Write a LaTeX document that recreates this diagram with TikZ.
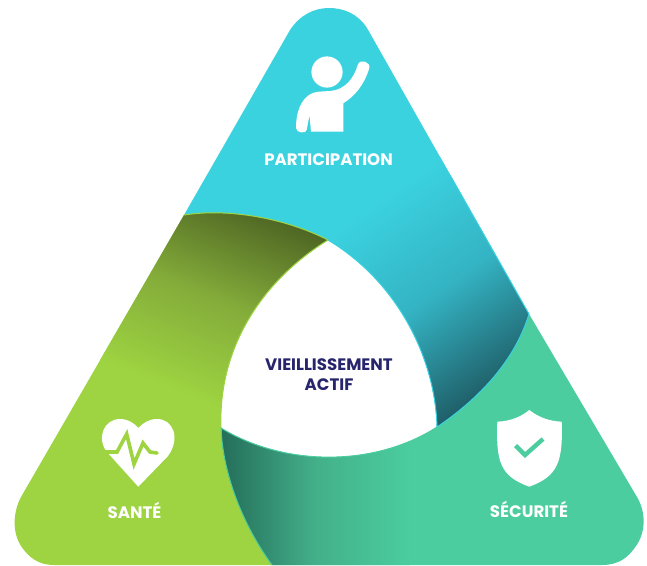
\documentclass[tikz,border=0pt]{standalone}
\usepackage{fontspec}
\setmainfont{Poppins}[BoldFont={Poppins Bold}]
\usepackage{tikz}
\definecolor{partblue}{HTML}{3BD2E0}
\definecolor{partmid}{HTML}{34B3C3}
\definecolor{partdark}{HTML}{1F5F68}
\definecolor{santegreen}{HTML}{9ED441}
\definecolor{santemid}{HTML}{84AC3A}
\definecolor{santedark}{HTML}{4E6523}
\definecolor{secugreen}{HTML}{4BCDA0}
\definecolor{secumid}{HTML}{43B08A}
\definecolor{secudark}{HTML}{256E5A}
\definecolor{coretext}{HTML}{27256B}

\begin{document}
\begin{tikzpicture}[x=1pt,y=-1pt,
    label/.style={font=\bfseries\fontsize{16.6}{20}\selectfont,text=white,align=center,inner sep=0pt},
    coretitle/.style={label,text=coretext},
    icon/.style={fill=white,draw=none}]

    \useasboundingbox (0,0) rectangle (647,565);

    \coordinate (L) at (184,215);
    \coordinate (T) at (328,240);
    \coordinate (R) at (437,427);
    \coordinate (W) at (221,428);
    \coordinate (E) at (529,314);
    \coordinate (B) at (272,565);

    % sante
    \def\santepath{(L) -- (21,497) .. controls (13,512) and (12,532) .. (21,546)
        .. controls (29,558) and (39,565) .. (54,565) -- (B)
        .. controls (243,525) and (223,475) .. (W)
        .. controls (218,350) and (260,282) .. (T)
        .. controls (285,218) and (228,208) .. (L) -- cycle}
    \fill[santegreen] \santepath;
    \begin{scope}
        \clip \santepath;
        \begin{scope}[transform canvas={rotate around={-22:(290,222)}}]
            \shade[top color=santedark,bottom color=santegreen,middle color=santemid] (-100,222) rectangle (700,422);
            \fill[santedark] (-100,120) rectangle (700,222.5);
        \end{scope}
    \end{scope}

    % securite
    \def\secupath{(E) -- (637,497) .. controls (646,512) and (646,532) .. (636,546)
        .. controls (628,558) and (618,565) .. (602,565) -- (B)
        .. controls (243,525) and (223,475) .. (W)
        .. controls (285,467) and (375,467) .. (R)
        .. controls (480,398) and (515,360) .. (E) -- cycle}
    \fill[secugreen] \secupath;
    \begin{scope}
        \clip \secupath;
        \shade[left color=secudark,right color=secugreen,middle color=secumid] (222,420) rectangle (410,565);
    \end{scope}
    \draw[secugreen,line width=1pt] (B) .. controls (243,525) and (223,475) .. (W)
        .. controls (285,467) and (375,467) .. (R);

    % participation
    \def\partpath{(L) -- (290,30) .. controls (300,15) and (314,8) .. (329,8)
        .. controls (344,8) and (358,14) .. (367,28) -- (E)
        .. controls (515,360) and (480,398) .. (R)
        .. controls (435,355) and (395,280) .. (T)
        .. controls (285,218) and (228,208) .. (L) -- cycle}
    \fill[partblue] \partpath;
    \begin{scope}
        \clip \partpath;
        \begin{scope}[transform canvas={rotate around={35:(437,427)}}]
            \shade[top color=partblue,bottom color=partdark,middle color=partmid] (-100,207) rectangle (900,427);
            \fill[partdark] (-100,426.5) rectangle (900,520);
        \end{scope}
    \end{scope}
    \draw[partblue,line width=1pt] (E) .. controls (515,360) and (480,398) .. (R)
        .. controls (435,355) and (395,280) .. (T);
    \draw[partblue,line width=1pt] (450,175) -- (E);
    \draw[santegreen,line width=1pt] (T) .. controls (285,218) and (228,208) .. (L);
    \draw[santegreen,line width=1pt] (W) .. controls (218,350) and (260,282) .. (T);

    % personne
    \fill[icon] (327,72) circle (15.6);
    \fill[icon] (343.3,131.7) -- (343.3,103.3) .. controls (355,96) and (364,85) .. (369.3,68.3)
        .. controls (371,62) and (360,58) .. (357.7,65)
        .. controls (354,78) and (345,90) .. (330,91)
        -- (318.3,91.7) .. controls (304,93) and (296,108) .. (296,128)
        .. controls (296,133) and (306,134) .. (306.7,130)
        -- (309.5,115) -- (311,131.7) -- cycle;

    % coeur
    \fill[icon] (138.3,486.7) -- (107,452) .. controls (96,438) and (104,419) .. (120,419)
        .. controls (128,419) and (134,423) .. (138.3,428)
        .. controls (143,423) and (149,419) .. (157,419)
        .. controls (173,419) and (181,438) .. (168,456) -- cycle;
    \draw[santegreen,line width=3.6pt,line cap=round,line join=miter]
        (102,452) -- (117,452) -- (126.7,434) -- (134,464) -- (143,443) -- (150,452) -- (157,453);

    % bouclier
    \fill[icon] (529.3,410) .. controls (522,416) and (512,421) .. (497.3,421.7)
        .. controls (496,462) and (500,476) .. (529.3,486.7)
        .. controls (558,476) and (563,462) .. (561.7,421.7)
        .. controls (547,421) and (537,416) .. (529.3,410) -- cycle;
    \draw[secugreen,line width=4.4pt] (515.5,445.5) -- (525,455) -- (543,439);

    \node[label] (part) at (328.5,159.7) {PARTICIPATION};
    \node[label] (sante) at (134.5,510.3) {SANTÉ};
    \node[label] (secu) at (529,509.3) {SÉCURITÉ};
    \node[coretitle] (core) at (329,374.5) {VIEILLISSEMENT\\[0pt]ACTIF};

\end{tikzpicture}
\end{document}
